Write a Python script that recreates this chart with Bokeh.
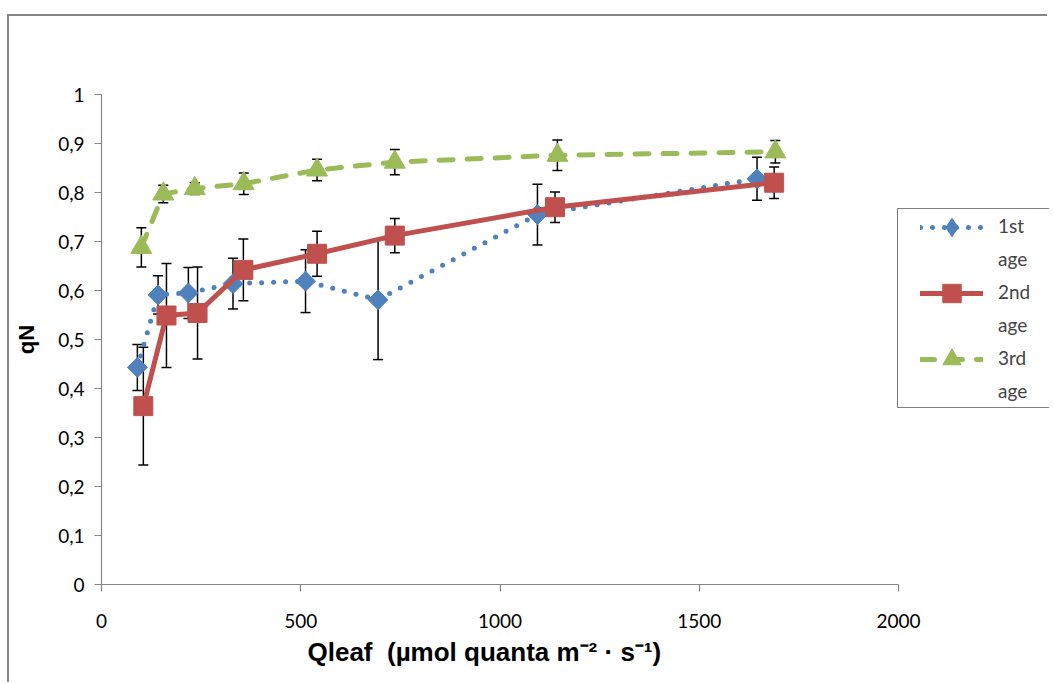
import numpy as np
from bokeh.plotting import figure
from bokeh.models import (ColumnDataSource, Range1d, FixedTicker, Whisker, TeeHead,
                          Legend, LegendItem, Title)
from bokeh.embed import file_html
from bokeh.resources import INLINE

# ---- data ----
age1_x = [90, 142, 218, 330, 512, 694, 1094, 1645]
age1_y = [0.443, 0.591, 0.595, 0.614, 0.619, 0.581, 0.755, 0.828]
age1_err = [0.047, 0.039, 0.052, 0.052, 0.064, 0.122, 0.062, 0.044]

age2_x = [105, 163, 241, 356, 541, 736, 1138, 1688]
age2_y = [0.364, 0.549, 0.554, 0.642, 0.675, 0.712, 0.770, 0.820]
age2_err = [0.120, 0.106, 0.094, 0.063, 0.046, 0.035, 0.031, 0.032]

age3_x = [100, 155, 234, 357, 541, 736, 1144, 1691]
age3_y = [0.688, 0.797, 0.808, 0.818, 0.846, 0.862, 0.876, 0.883]
age3_err = [0.040, 0.018, 0.012, 0.022, 0.022, 0.026, 0.031, 0.023]

legend_lines = ["1st", "age", "2nd", "age", "3rd", "age"]

y_ticks = [0, 0.1, 0.2, 0.3, 0.4, 0.5, 0.6, 0.7, 0.8, 0.9, 1]
y_tick_labels = ["0", "0,1", "0,2", "0,3", "0,4", "0,5", "0,6", "0,7", "0,8", "0,9", "1"]
x_ticks = [0, 500, 1000, 1500, 2000]

x_title = "Qleaf\u00a0 (\u00b5mol quanta m\u207b\u00b2\u00a0\u00b7 s\u207b\u00b9)"
y_title = "qN"

# ---- figure ----
W, H = 1040, 668
LEFT = 92                     # canvas px left of the plot area
PX_PER_X = 797 / 2000         # px per x unit (axis 0..2000 spans 797 px)
x_end = (W - LEFT) / PX_PER_X  # frame reaches the right edge (room for the legend)

p = figure(width=W, height=H, output_backend="svg", toolbar_location=None,
           x_range=Range1d(0, x_end), y_range=Range1d(0, 1),
           min_border_left=LEFT, min_border_right=0, min_border_top=78,
           min_border_bottom=100)
p.margin = (14, 0, 0, 7)
p.styles = {"border-left": "2px solid #868686", "border-top": "2px solid #868686"}
p.grid.visible = False
p.outline_line_color = None
p.background_fill_color = "white"
p.border_fill_color = "white"

AX = "#868686"
for ax in (p.xaxis[0], p.yaxis[0]):
    ax.axis_line_color = AX
    ax.axis_line_width = 1.2
    ax.major_tick_line_color = AX
    ax.major_tick_line_width = 1.2
    ax.major_tick_in = 0
    ax.major_tick_out = 7
    ax.minor_tick_line_color = None
    ax.major_label_text_font = "Lato"
    ax.major_label_text_font_size = "19px"
    ax.major_label_text_color = "black"
    ax.axis_label_text_font = "Liberation Sans"
    ax.axis_label_text_font_style = "bold"
    ax.axis_label_text_color = "black"

p.yaxis.ticker = FixedTicker(ticks=y_ticks)
p.yaxis.major_label_overrides = dict(zip(y_ticks, y_tick_labels))
p.yaxis.major_label_standoff = 10
p.yaxis.axis_label = y_title
p.yaxis.axis_label_text_font_size = "22px"
p.yaxis.axis_label_standoff = 16

p.xaxis.ticker = FixedTicker(ticks=x_ticks)
p.xaxis.bounds = (0, 2000)
p.xaxis.major_label_standoff = 22

# x-axis title, centred under the 0..2000 axis (frame is wider for the legend)
xt = Title(text=x_title, align="left", offset=206, standoff=12, vertical_align="top",
           text_font="Liberation Sans", text_font_style="bold",
           text_font_size="26px", text_color="black")
p.add_layout(xt, "below")

BLUE, RED, GREEN = "#4F81BD", "#C0504D", "#9BBB59"

def add_series(xs, ys, errs, color, dash, marker, size, angle, lw, legend_marker=None):
    src = ColumnDataSource(dict(x=xs, y=ys,
                                lo=[a - b for a, b in zip(ys, errs)],
                                hi=[a + b for a, b in zip(ys, errs)]))
    w = Whisker(base="x", lower="lo", upper="hi", source=src, dimension="height",
                line_color="black", line_width=1.5, level="underlay",
                lower_head=TeeHead(size=10, line_color="black", line_width=1.5),
                upper_head=TeeHead(size=10, line_color="black", line_width=1.5))
    p.add_layout(w)
    extra = None
    if legend_marker is not None:
        # small marker hidden under the plotted marker; gives the legend its shape
        extra = p.scatter("x", "y", source=src, marker=legend_marker, size=10,
                          fill_color=color, line_color=color)
    ln = p.line("x", "y", source=src, line_color=color, line_width=lw,
                line_dash=dash, line_cap="round", line_join="round")
    sc = p.scatter("x", "y", source=src, marker=marker, size=size, angle=angle,
                   fill_color=color, line_color=color)
    return ln, (extra if extra is not None else sc)

r1 = add_series(age1_x, age1_y, age1_err, BLUE, "0 12", "square", 14, np.pi / 4, 5,
                legend_marker="diamond")
r2 = add_series(age2_x, age2_y, age2_err, RED, "solid", "square", 19, 0, 5)
r3 = add_series(age3_x, age3_y, age3_err, GREEN, "14 14", "triangle", 21, 0, 5)

# invisible renderer used only for text-only legend rows
blank = p.line(x=[], y=[], line_alpha=0)

# legend box with the label lines
legend_box = Legend(items=[LegendItem(label=t, renderers=[blank]) for t in legend_lines],
                    location=(796, 176))
legend_box.border_line_color = "black"
legend_box.border_line_width = 1.5
legend_box.background_fill_color = "white"
legend_box.background_fill_alpha = 1
legend_box.label_text_font = "Lato"
legend_box.label_text_font_size = "19px"
legend_box.glyph_width = 86
legend_box.glyph_height = 33
legend_box.label_standoff = 14
legend_box.padding = 0
legend_box.spacing = 0
legend_box.margin = 0
legend_box.label_width = 90
p.add_layout(legend_box, "center")

# legend glyphs (line + marker) aligned with the first line of each entry
legend_glyphs = Legend(items=[LegendItem(label=" ", renderers=list(r1)),
                              LegendItem(label=" ", renderers=list(r2)),
                              LegendItem(label=" ", renderers=list(r3))],
                       location=(819, 202))
legend_glyphs.border_line_color = None
legend_glyphs.background_fill_alpha = 0
legend_glyphs.label_text_font_size = "10px"
legend_glyphs.glyph_width = 63
legend_glyphs.glyph_height = 46
legend_glyphs.label_standoff = 0
legend_glyphs.padding = 0
legend_glyphs.spacing = 20
legend_glyphs.margin = 0
p.add_layout(legend_glyphs, "center")

open("out.html", "w").write(file_html(p, INLINE))
